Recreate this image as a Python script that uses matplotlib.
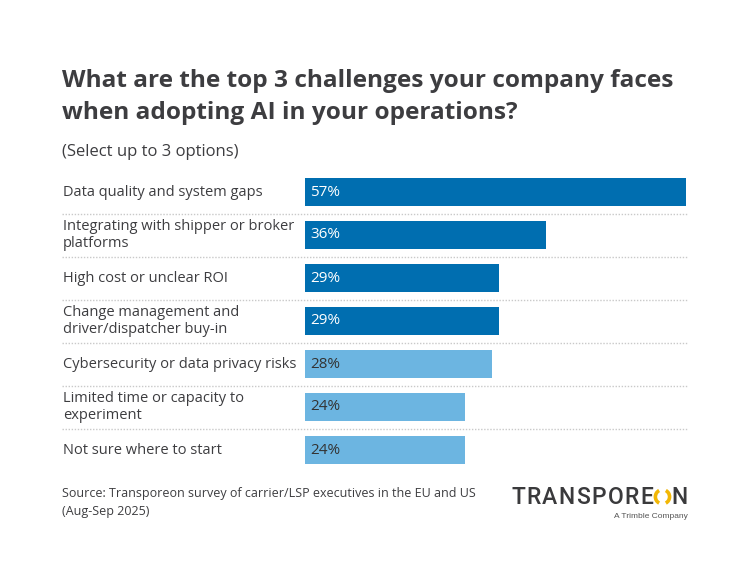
import matplotlib.pyplot as plt
from matplotlib.patches import Arc
from matplotlib.transforms import blended_transform_factory

# data
labels = [
    'Data quality and system gaps',
    'Integrating with shipper or broker\nplatforms',
    'High cost or unclear ROI',
    'Change management and\ndriver/dispatcher buy-in',
    'Cybersecurity or data privacy risks',
    'Limited time or capacity to\nexperiment',
    'Not sure where to start',
]
values = [57, 36, 29, 29, 28, 24, 24]
highlight = [True, True, True, True, False, False, False]

title = 'What are the top 3 challenges your company faces\nwhen adopting AI in your operations?'
subtitle = '(Select up to 3 options)'
source = 'Source: Transporeon survey of carrier/LSP executives in the EU and US\n(Aug-Sep 2025)'

DARK = '#006eb0'
LIGHT = '#6cb5e1'
TXT = '#3d3d40'
LOGO = '#3a3a3c'
YELLOW = '#f2b705'

plt.rcParams['font.family'] = ['Open Sans', 'DejaVu Sans']

W, H = 750, 583
fig = plt.figure(figsize=(W / 100, H / 100), dpi=100)
fig.patch.set_facecolor('white')

def fx(px):
    return px / W

def fy(py):
    return 1 - py / H

# bar area: 0% at x=305px, 57% at x=686px, rows 43px apart starting at 192px
top_px, step = 192 - 21.5, 43
ax = fig.add_axes([fx(305), fy(top_px + step * 7), fx(686) - fx(305), step * 7 / H])
ax.set_xlim(0, 57)
ax.set_ylim(6.5, -0.5)
ax.axis('off')

ypos = list(range(len(values)))
colors = [DARK if h else LIGHT for h in highlight]
ax.barh(ypos, values, height=0.64, color=colors, edgecolor='none')

for y, v, h in zip(ypos, values, highlight):
    ax.annotate(f'{v}%', (0, y), xytext=(4.0, 0), textcoords='offset points',
                ha='left', va='center', fontsize=11,
                color='white' if h else '#333333')

lab_tr = blended_transform_factory(fig.transFigure, ax.transData)
for y, lab in zip(ypos, labels):
    ax.text(fx(63), y, lab, transform=lab_tr, ha='left', va='center',
            fontsize=10.5, color=TXT, linespacing=1.2, clip_on=False)

# dotted separators between rows
for i in range(len(values) - 1):
    ax.plot([fx(62), fx(687)], [i + 0.5, i + 0.5], transform=lab_tr,
            color='#c9c9c9', lw=1, ls=(0, (1, 1.2)), clip_on=False)

fig.text(fx(62), fy(97), title, ha='left', va='center', fontsize=17.6,
         fontweight='bold', color=TXT, linespacing=1.42)
fig.text(fx(62), fy(152), subtitle, ha='left', va='center', fontsize=12,
         color=TXT)
fig.text(fx(62), fy(503), source, ha='left', va='center', fontsize=9.0,
         color=TXT, linespacing=1.5)

# logo, drawn in pixel coordinates on an overlay axes
lax = fig.add_axes([0, 0, 1, 1])
lax.set_xlim(0, W)
lax.set_ylim(H, 0)
lax.axis('off')

fig.canvas.draw()
r = fig.canvas.get_renderer()
logo_kw = dict(fontsize=16.5, fontweight='medium', family='Roboto', color=LOGO,
               ha='left', va='baseline')
letters = list('TRANSPOREON')
widths = []
for ch in letters:
    t = lax.text(0, 0, ch, **logo_kw)
    widths.append(t.get_window_extent(r).width)
    t.remove()
x0, x1, base = 511, 688, 504
track = (x1 - x0 - sum(widths)) / (len(letters) - 1)
x = x0
for i, (ch, w) in enumerate(zip(letters, widths)):
    if i == 9:
        cx, cy = x + w / 2, base - 7.2
        lax.add_patch(Arc((cx, cy), w * 0.9, 14.2, theta1=118, theta2=242,
                          color=YELLOW, lw=2.6))
        lax.add_patch(Arc((cx, cy), w * 0.9, 14.2, theta1=-62, theta2=62,
                          color=YELLOW, lw=2.6))
    else:
        lax.text(x, base, ch, **logo_kw)
    x += w + track
lax.text(688, 516, 'A Trimble Company', ha='right', va='center',
         fontsize=6.0, family='Liberation Sans', color='#555555')

fig.savefig('out.png', dpi=100)
